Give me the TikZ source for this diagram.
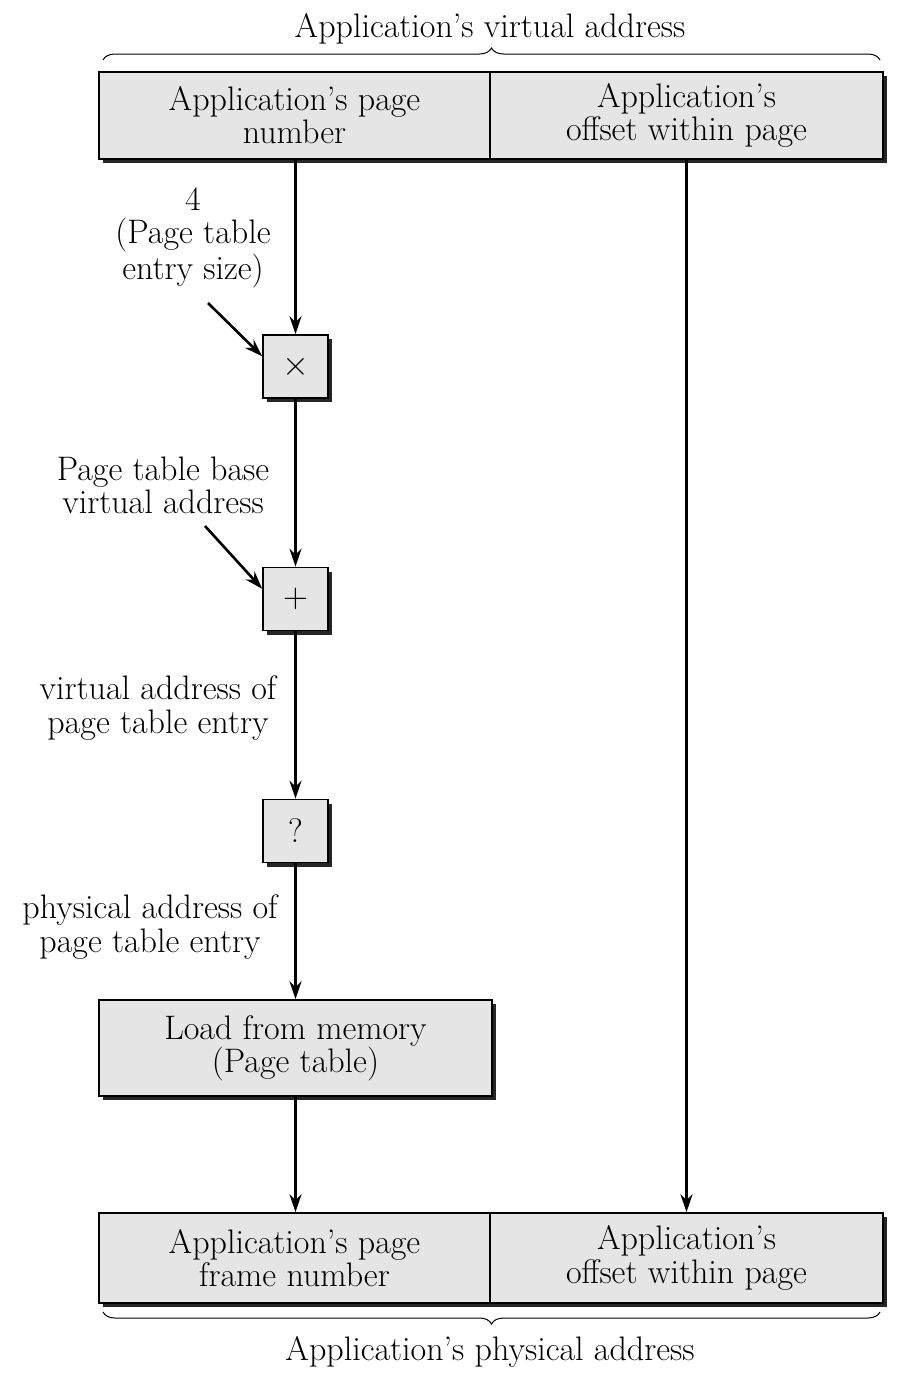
\documentclass[tikz,border=0pt]{standalone}
\usetikzlibrary{arrows.meta,shadows,decorations.pathreplacing,calc}
\begin{document}
\begin{tikzpicture}[x=0.5pt,y=-0.5pt,
  font=\fontsize{17}{16.6}\selectfont,
  box/.style={draw=black,line width=0.8pt,fill=black!10,inner sep=0pt,align=center,
    drop shadow={shadow xshift=2pt,shadow yshift=-2pt,fill=black!85,opacity=1}},
  lbl/.style={align=center,inner sep=0pt},
  arr/.style={line width=1.3pt,-{Stealth[length=9pt,width=6pt]}},
  brc/.style={line width=0.5pt,decorate,decoration={brace,amplitude=6pt}}]
\useasboundingbox (0,0) rectangle (912,1376);
% top address
\node[box,minimum width=195.5pt,minimum height=43.5pt] (tl) at (294.5,115.5) {Application's page\\number};
\node[box,minimum width=196.5pt,minimum height=43.5pt] (tr) at (686.5,115.5) {Application's\\offset within page};
\draw[brc] (103,60) -- (880,60) coordinate[midway] (tb);
\node[lbl] (tt) at (490,29) {Application's virtual address};
% operation boxes
\node[box,minimum width=32.5pt,minimum height=31.5pt] (mul) at (295.5,366.5) {$\times$};
\node[box,minimum width=32.5pt,minimum height=31.5pt] (add) at (295.5,599) {$+$};
\node[box,minimum width=32.5pt,minimum height=31.5pt] (xl) at (295.5,831) {?};
\node[box,minimum width=196.5pt,minimum height=48pt] (load) at (295.5,1048) {Load from memory\\(Page table)};
% bottom address
\node[box,minimum width=195.5pt,minimum height=45pt] (bl) at (294.5,1258) {Application's page\\frame number};
\node[box,minimum width=196.5pt,minimum height=45pt] (br) at (686.5,1258) {Application's\\offset within page};
\draw[brc] (880,1312) -- (103,1312) coordinate[midway] (bb);
\node[lbl] (bt) at (490,1352) {Application's physical address};
% labels
\node[lbl] (l1) at (193,238) {4\\(Page table\\entry size)};
\node[lbl] (l2) at (163,485) {Page table base\\virtual address};
\node[lbl] (l3) at (158,708) {virtual address of\\page table entry};
\node[lbl] (l4) at (150,927) {physical address of\\page table entry};
\coordinate (s1) at (208,303);
\coordinate (s2) at (205,526);
% connectors
\draw[arr] (mul.north |- tl.south) -- (mul.north);
\draw[arr] (s1) -- (mul.163);
\draw[arr] (mul.south) -- (add.north);
\draw[arr] (s2) -- (add.163);
\draw[arr] (add.south) -- (xl.north);
\draw[arr] (xl.south) -- (load.north);
\draw[arr] (load.south) -- (load.south |- bl.north);
\draw[arr] (tr.south) -- (br.north);
\end{tikzpicture}
\end{document}
